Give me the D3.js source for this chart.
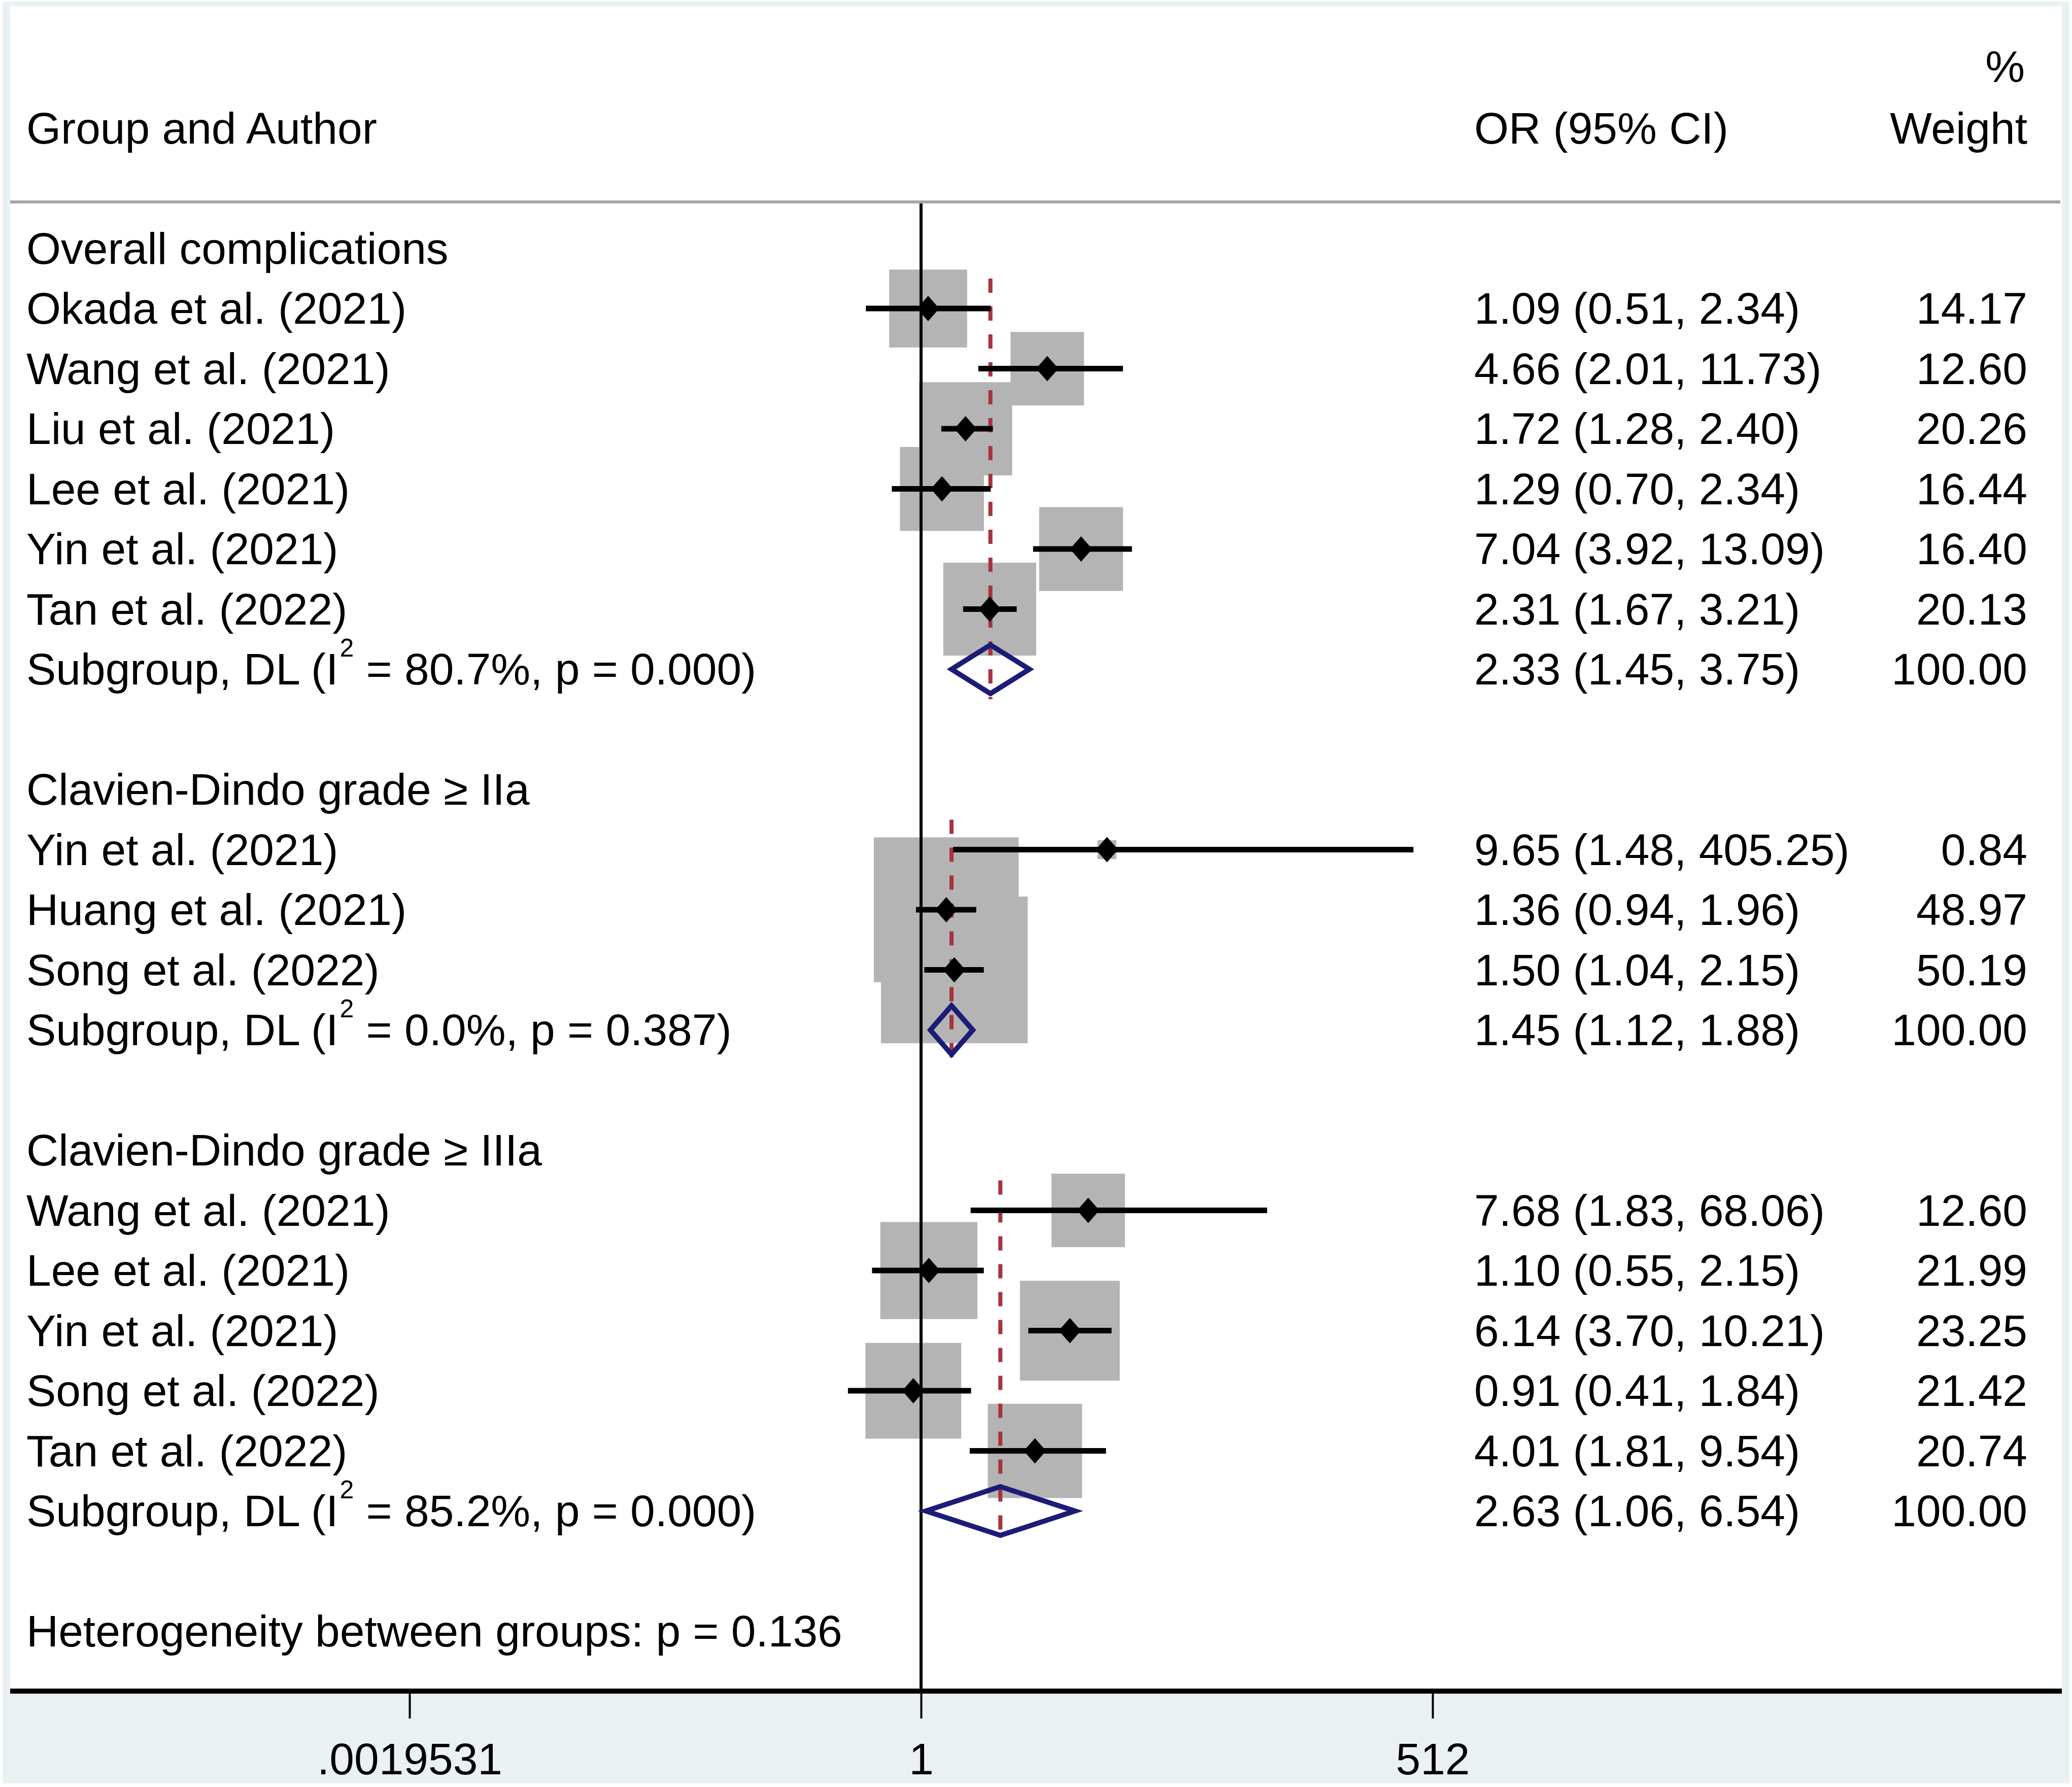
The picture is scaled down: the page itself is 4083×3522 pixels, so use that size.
<!DOCTYPE html>
<html>
<head>
<meta charset="utf-8">
<script src="https://cdn.jsdelivr.net/npm/d3@7/dist/d3.min.js"></script>
<style>
  html, body { margin: 0; padding: 0; background: #ffffff; }
  svg { display: block; }
  text { font-family: "Liberation Sans", Arial, sans-serif; fill: #000; }
</style>
</head>
<body>
<script>
// ---------------- DATA ----------------
const groupNames = ["Overall complications", "Clavien-Dindo grade \u2265 IIa", "Clavien-Dindo grade \u2265 IIIa"];
const studyGroup  = [0, 0, 0, 0, 0, 0, 1, 1, 1, 2, 2, 2, 2, 2];
const studyLabels = ["Okada et al. (2021)", "Wang et al. (2021)", "Liu et al. (2021)", "Lee et al. (2021)",
                     "Yin et al. (2021)", "Tan et al. (2022)",
                     "Yin et al. (2021)", "Huang et al. (2021)", "Song et al. (2022)",
                     "Wang et al. (2021)", "Lee et al. (2021)", "Yin et al. (2021)", "Song et al. (2022)", "Tan et al. (2022)"];
const studyOR     = [1.09, 4.66, 1.72, 1.29, 7.04, 2.31, 9.65, 1.36, 1.50, 7.68, 1.10, 6.14, 0.91, 4.01];
const studyLo     = [0.51, 2.01, 1.28, 0.70, 3.92, 1.67, 1.48, 0.94, 1.04, 1.83, 0.55, 3.70, 0.41, 1.81];
const studyHi     = [2.34, 11.73, 2.40, 2.34, 13.09, 3.21, 405.25, 1.96, 2.15, 68.06, 2.15, 10.21, 1.84, 9.54];
const studyWeight = [14.17, 12.60, 20.26, 16.44, 16.40, 20.13, 0.84, 48.97, 50.19, 12.60, 21.99, 23.25, 21.42, 20.74];

const subOR = [2.33, 1.45, 2.63];
const subLo = [1.45, 1.12, 1.06];
const subHi = [3.75, 1.88, 6.54];
const subI2 = ["80.7%", "0.0%", "85.2%"];
const subP  = ["0.000", "0.387", "0.000"];
const subWeight = [100.00, 100.00, 100.00];

const heterogeneityText = "Heterogeneity between groups: p = 0.136";
const headerLabel = "Group and Author";
const headerEffect = "OR (95% CI)";
const headerWeight1 = "%";
const headerWeight2 = "Weight";

const tickValues = [0.001953125, 1, 512];
const tickLabels = [".0019531", "1", "512"];

// ---------------- LAYOUT ----------------
const W = 4083, H = 3522;
const FS = 87.5;
const plotLeft = 20, plotRight = 4063, plotTop = 12, axisY = 3333;
const headerLineY = 398;

const svg = d3.select("body").append("svg")
  .attr("width", W).attr("height", H).attr("viewBox", `0 0 ${W} ${H}`);

svg.append("rect").attr("x", 0).attr("y", 0).attr("width", W).attr("height", H).attr("fill", "#ffffff");
svg.append("rect").attr("x", 5).attr("y", 3).attr("width", 4073).attr("height", 3512).attr("fill", "#e9f1f3");
svg.append("rect").attr("x", plotLeft).attr("y", plotTop).attr("width", plotRight - plotLeft)
  .attr("height", axisY - plotTop).attr("fill", "#ffffff");

// scales
const x = d3.scaleLog().base(2).domain([tickValues[0], tickValues[2]]).range([807, 2823]);
const nRows = 24;
const y = d3.scaleLinear().domain([0, nRows - 1]).range([489.6, 489.6 + 23 * 118.5]);
const boxSide = d3.scaleSqrt().domain([0, 100]).range([0, 408]);

// build row table
let r = 0;
const studyRow = [], subRow = [], groupRow = [], firstStudyRow = [];
for (let g = 0; g < groupNames.length; g++) {
  groupRow[g] = r; r++;
  firstStudyRow[g] = r;
  studyGroup.forEach((sg, i) => {
    if (sg === g) { studyRow[i] = r; r++; }
  });
  subRow[g] = r; r++;
  r++; // blank
}
const hetRow = r;

// header
svg.append("text").attr("x", 52).attr("y", 283).attr("font-size", FS).text(headerLabel);
svg.append("text").attr("x", 2905).attr("y", 283).attr("font-size", FS).text(headerEffect);
svg.append("text").attr("x", 3990).attr("y", 161).attr("font-size", FS).attr("text-anchor", "end").text(headerWeight1);
svg.append("text").attr("x", 3995).attr("y", 283).attr("font-size", FS).attr("text-anchor", "end").text(headerWeight2);

svg.append("line").attr("x1", plotLeft).attr("x2", 4060).attr("y1", headerLineY).attr("y2", headerLineY)
  .attr("stroke", "#a6a6a6").attr("stroke-width", 6);

// boxes
const gBoxes = svg.append("g");
studyOR.forEach((v, i) => {
  const s = boxSide(studyWeight[i]);
  gBoxes.append("rect")
    .attr("x", x(v) - s / 2).attr("y", y(studyRow[i]) - s / 2)
    .attr("width", s).attr("height", s)
    .attr("fill", "#b4b4b4");
});

// dashed subgroup lines
subOR.forEach((v, g) => {
  svg.append("line")
    .attr("x1", x(v)).attr("x2", x(v))
    .attr("y1", y(firstStudyRow[g]) - 59).attr("y2", y(subRow[g]) + 59)
    .attr("stroke", "#a8323e").attr("stroke-width", 8)
    .attr("stroke-dasharray", "28 27");
});

// null line
svg.append("line").attr("x1", x(1)).attr("x2", x(1)).attr("y1", headerLineY + 3).attr("y2", axisY)
  .attr("stroke", "#000").attr("stroke-width", 6);

// CI lines
studyOR.forEach((v, i) => {
  svg.append("line")
    .attr("x1", x(studyLo[i])).attr("x2", x(studyHi[i]))
    .attr("y1", y(studyRow[i])).attr("y2", y(studyRow[i]))
    .attr("stroke", "#000").attr("stroke-width", 11);
});

// point diamonds
const pw = 22, ph = 25;
studyOR.forEach((v, i) => {
  const cx = x(v), cy = y(studyRow[i]);
  svg.append("path")
    .attr("d", `M${cx - pw},${cy} L${cx},${cy - ph} L${cx + pw},${cy} L${cx},${cy + ph} Z`)
    .attr("fill", "#000");
});

// subgroup diamonds
subOR.forEach((v, g) => {
  const cy = y(subRow[g]);
  svg.append("path")
    .attr("d", `M${x(subLo[g])},${cy} L${x(v)},${cy - 48} L${x(subHi[g])},${cy} L${x(v)},${cy + 48} Z`)
    .attr("fill", "none").attr("stroke", "#1c1c78").attr("stroke-width", 10)
    .attr("stroke-linejoin", "miter");
});

// text rows
const fmt = d3.format(".2f");
const baseOff = 30;
groupNames.forEach((name, g) => {
  svg.append("text").attr("x", 52).attr("y", y(groupRow[g]) + baseOff).attr("font-size", FS).text(name);
});
studyLabels.forEach((lab, i) => {
  const yy = y(studyRow[i]) + baseOff;
  svg.append("text").attr("x", 52).attr("y", yy).attr("font-size", FS).text(lab);
  svg.append("text").attr("x", 2905).attr("y", yy).attr("font-size", FS)
    .text(`${fmt(studyOR[i])} (${fmt(studyLo[i])}, ${fmt(studyHi[i])})`);
  svg.append("text").attr("x", 3995).attr("y", yy).attr("font-size", FS).attr("text-anchor", "end")
    .text(fmt(studyWeight[i]));
});
subOR.forEach((v, g) => {
  const yy = y(subRow[g]) + baseOff;
  const t = svg.append("text").attr("x", 52).attr("y", yy).attr("font-size", FS);
  t.append("tspan").text("Subgroup, DL (I");
  t.append("tspan").attr("font-size", 50).attr("dy", -55).attr("dx", 3).text("2");
  t.append("tspan").attr("dy", 55).text(` = ${subI2[g]}, p = ${subP[g]})`);
  svg.append("text").attr("x", 2905).attr("y", yy).attr("font-size", FS)
    .text(`${fmt(v)} (${fmt(subLo[g])}, ${fmt(subHi[g])})`);
  svg.append("text").attr("x", 3995).attr("y", yy).attr("font-size", FS).attr("text-anchor", "end")
    .text(fmt(subWeight[g]));
});
svg.append("text").attr("x", 52).attr("y", y(hetRow) + baseOff).attr("font-size", FS).text(heterogeneityText);

// axis
const axis = d3.axisBottom(x)
  .tickValues(tickValues)
  .tickFormat((d, i) => tickLabels[i])
  .tickSize(54).tickSizeOuter(0).tickPadding(48);
const gAxis = svg.append("g").attr("transform", `translate(0,${axisY})`).call(axis);
gAxis.select(".domain").remove();
gAxis.selectAll(".tick line").attr("stroke", "#000").attr("stroke-width", 4);
gAxis.selectAll(".tick text").attr("font-size", FS).attr("fill", "#000")
  .attr("font-family", "Liberation Sans, Arial, sans-serif");
svg.append("line").attr("x1", plotLeft).attr("x2", plotRight).attr("y1", axisY).attr("y2", axisY)
  .attr("stroke", "#000").attr("stroke-width", 10);
</script>
</body>
</html>
